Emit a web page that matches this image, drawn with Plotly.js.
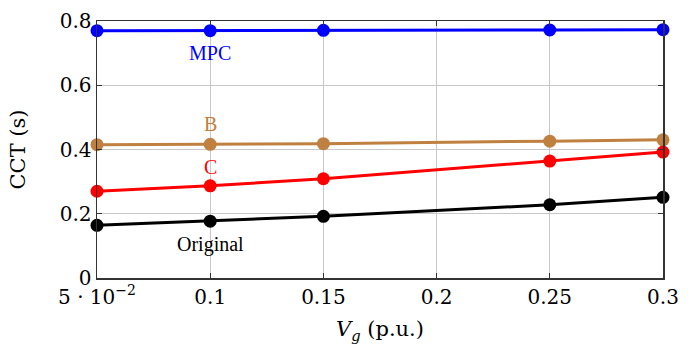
<!DOCTYPE html>
<html>
<head>
<meta charset="utf-8">
<script src="https://cdn.plot.ly/plotly-3.0.1.min.js"></script>
<style>html,body{margin:0;padding:0;background:#fff;}#chart{width:693px;height:354px;}</style>
</head>
<body>
<div id="chart"></div>
<script>
const vg = [0.05, 0.1, 0.15, 0.25, 0.3];
const mpc = [0.770, 0.770, 0.771, 0.772, 0.773];
const seriesB = [0.415, 0.416, 0.418, 0.426, 0.430];
const seriesC = [0.270, 0.287, 0.309, 0.364, 0.392];
const original = [0.164, 0.177, 0.192, 0.228, 0.251];
const xTickVals = [0.05, 0.1, 0.15, 0.2, 0.25, 0.3];
const xTickText = ['5 · 10<sup>−2</sup>', '0.1', '0.15', '0.2', '0.25', '0.3'];
const yTickVals = [0, 0.2, 0.4, 0.6, 0.8];
const yTickText = ['0', '0.2', '0.4', '0.6', '0.8'];
const seriesNames = ['MPC', 'B', 'C', 'Original'];
const seriesColors = ['#0000ff', '#bf8040', '#ff0000', '#000000'];
const seriesValues = [mpc, seriesB, seriesC, original];

const traces = seriesValues.map((vals, i) => ({
  x: vg, y: vals, type: 'scatter', mode: 'lines+markers', name: seriesNames[i],
  line: {color: seriesColors[i], width: 3},
  marker: {color: seriesColors[i], size: 13},
  cliponaxis: false
}));

const labelY = [0.70, 0.478, 0.345, 0.103];
const annotations = seriesNames.map((n, i) => ({
  x: 0.1, y: labelY[i], xref: 'x', yref: 'y', text: n, showarrow: false,
  font: {family: 'Liberation Serif', size: 20, color: seriesColors[i]}
}));

const tickFont = {family: 'DejaVu Serif', size: 20, color: '#000'};
const titleFont = {family: 'DejaVu Serif', size: 21, color: '#000'};
const layout = {
  width: 693, height: 354,
  margin: {l: 97, r: 30, t: 21, b: 76},
  paper_bgcolor: '#fff', plot_bgcolor: '#fff',
  showlegend: false,
  font: tickFont,
  xaxis: {
    range: [0.05, 0.3], tickvals: xTickVals, ticktext: xTickText,
    showgrid: true, gridcolor: '#c8c8c8', gridwidth: 1,
    showline: true, linecolor: '#333', linewidth: 1.5, mirror: 'all',
    ticks: 'inside', ticklen: 5, tickcolor: '#333',
    zeroline: false, tickfont: tickFont,
    title: {text: '<i>V<sub>g</sub></i> (p.u.)', font: titleFont, standoff: 14}
  },
  yaxis: {
    range: [0, 0.8], tickvals: yTickVals, ticktext: yTickText,
    showgrid: true, gridcolor: '#c8c8c8', gridwidth: 1,
    showline: true, linecolor: '#333', linewidth: 1.5, mirror: 'all',
    ticks: 'inside', ticklen: 5, tickcolor: '#333',
    zeroline: false, tickfont: tickFont,
    title: {text: 'CCT (s)', font: titleFont, standoff: 28}
  },
  annotations: annotations
};
Plotly.newPlot('chart', traces, layout, {displayModeBar: false, staticPlot: true});
</script>
</body>
</html>
